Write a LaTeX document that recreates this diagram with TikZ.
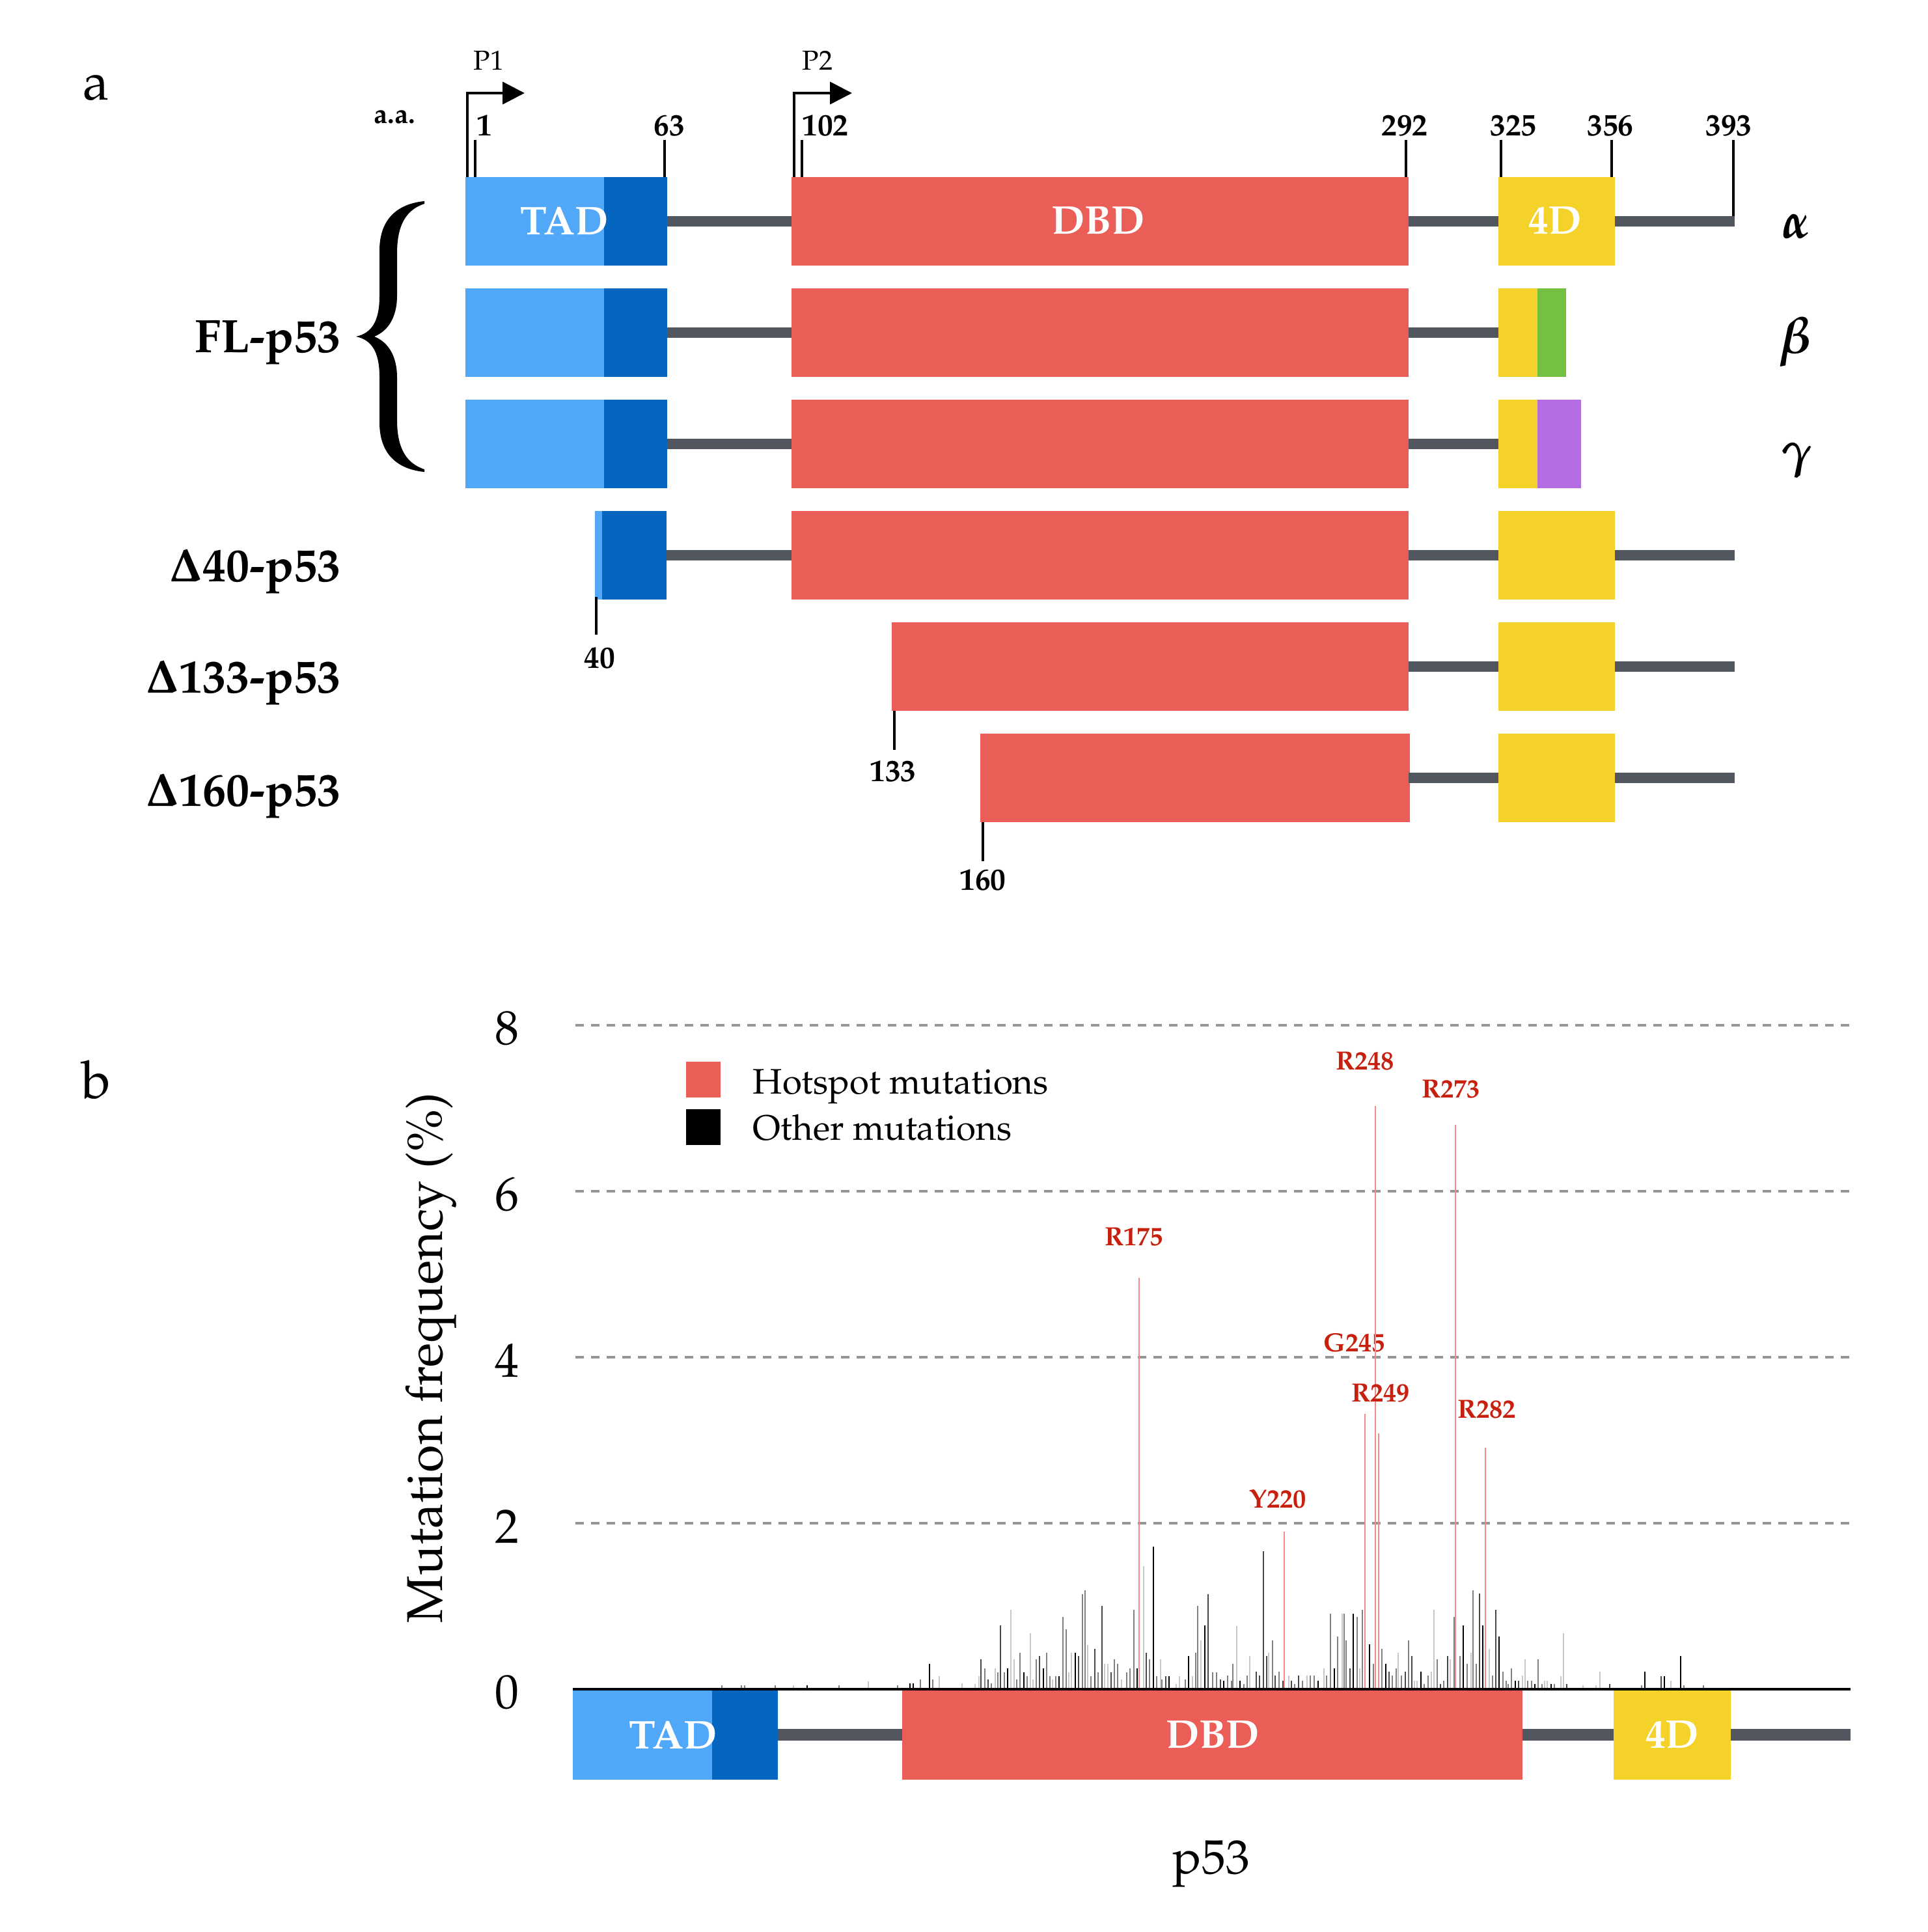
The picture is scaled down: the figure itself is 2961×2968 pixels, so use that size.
\documentclass[tikz,border=0pt]{standalone}
\usepackage[T1]{fontenc}
\usepackage{mathpazo}
\usepackage{bm}
\usepackage{tikz}
\usetikzlibrary{arrows.meta}
\definecolor{tadlight}{RGB}{82,168,248}
\definecolor{taddark}{RGB}{5,102,192}
\definecolor{dbdred}{RGB}{235,94,88}
\definecolor{tetyellow}{RGB}{245,210,42}
\definecolor{betagreen}{RGB}{115,192,67}
\definecolor{gammapurple}{RGB}{180,110,225}
\definecolor{linkgrey}{RGB}{82,86,94}
\definecolor{hotline}{RGB}{242,140,140}
\definecolor{hotlabel}{RGB}{200,32,14}
\definecolor{gridgrey}{RGB}{150,150,150}
\colorlet{mk}{black}
\colorlet{md}{black!72}
\colorlet{mg}{black!50}
\colorlet{ml}{black!22}
% boxes in panel a: colour, left, right, row centre
\newcommand{\dombox}[4]{\fill[#1] (#2,#4-68) rectangle (#3,#4+68);}
\newcommand{\linker}[3]{\fill[linkgrey] (#1,#3-8) rectangle (#2,#3+8);}

\begin{document}
\begin{tikzpicture}[x=0.1mm,y=-0.1mm,
  every node/.style={inner sep=0pt},
  tick/.style={line width=1.3pt},
  numlab/.style={font=\fontsize{13.5}{15}\selectfont\bfseries},
  isolab/.style={font=\fontsize{20.5}{23}\selectfont\bfseries,anchor=base east},
  greeklab/.style={font=\fontsize{22}{24}\selectfont},
  domlab/.style={font=\fontsize{17.5}{20}\selectfont\bfseries,text=white},
  panellab/.style={font=\fontsize{23}{26}\selectfont},
  axlab/.style={font=\fontsize{21}{24}\selectfont},
  hotlab/.style={font=\fontsize{11.5}{13}\selectfont\bfseries,text=hotlabel},
  gridline/.style={gridgrey,line width=1.4pt,dash pattern=on 1.3mm off 1.1mm},
  bar/.style={line width=0.6pt}]
\useasboundingbox (0,0) rectangle (2961,2968);

%%% panel a
\node[panellab] (pa) at (148,134) {a};
\node[numlab,font=\fontsize{12}{14}\selectfont\bfseries] (aa) at (606,180) {a.a.};

% promoters
\draw[tick,-{Triangle[length=3.4mm,width=3.4mm]}] (718,272) -- (718,143) -- (806,143);
\draw[tick,-{Triangle[length=3.4mm,width=3.4mm]}] (1220,272) -- (1220,143) -- (1309,143);
\node[font=\fontsize{12}{14}\selectfont] (p1) at (751,93) {P1};
\node[font=\fontsize{12}{14}\selectfont] (p2) at (1256,93) {P2};

% residue ticks
\foreach \tx/\lx/\lab/\tb in {730/744/1/272, 1021/1028/63/272, 1232/1268/102/272,
   2160/2158/292/272, 2306/2325/325/272, 2476/2474/356/272, 2663/2656/393/333}{
  \draw[tick] (\tx,215) -- (\tx,\tb);
  \node[numlab] (n\lab) at (\lx,193) {\lab};
}

% full length isoforms
\foreach \yc in {340,511,682}{
  \dombox{tadlight}{715}{928}{\yc}
  \dombox{taddark}{928}{1025}{\yc}
  \linker{1025}{1216}{\yc}
  \dombox{dbdred}{1216}{2164}{\yc}
  \linker{2164}{2302}{\yc}
}
\dombox{tetyellow}{2302}{2481}{340}
\linker{2481}{2665}{340}
\dombox{tetyellow}{2302}{2362}{511}
\dombox{betagreen}{2362}{2406}{511}
\dombox{tetyellow}{2302}{2362}{682}
\dombox{gammapurple}{2362}{2429}{682}
\node[domlab] (tad) at (867,339) {TAD};
\node[domlab] (dbd) at (1687,339) {DBD};
\node[domlab] (tet) at (2389,339) {4D};

% N-terminal truncated isoforms
\dombox{tadlight}{914}{925}{853}
\dombox{taddark}{925}{1024}{853}
\linker{1024}{1216}{853}
\dombox{dbdred}{1216}{2164}{853}
\dombox{dbdred}{1370}{2164}{1024}
\dombox{dbdred}{1506}{2166}{1195}
\foreach \yc in {853,1024,1195}{
  \linker{2164}{2304}{\yc}
  \dombox{tetyellow}{2302}{2481}{\yc}
  \linker{2481}{2665}{\yc}
}
\draw[tick] (916,917) -- (916,975);
\node[numlab] (n40) at (921,1011) {40};
\draw[tick] (1374,1092) -- (1374,1152);
\node[numlab] (n133) at (1372,1185) {133};
\draw[tick] (1510,1263) -- (1510,1323);
\node[numlab] (n160) at (1510,1352) {160};

% labels
\node[isolab] (fl) at (524,542) {FL-p53};
\node[isolab] (d40) at (524,893) {$\bm{\Delta}$40-p53};
\node[isolab] (d133) at (524,1064) {$\bm{\Delta}$133-p53};
\node[isolab] (d160) at (524,1238) {$\bm{\Delta}$160-p53};
\node[greeklab] (galpha) at (2760,348) {$\bm{\alpha}$};
\node[greeklab] (gbeta) at (2757,525) {$\bm{\beta}$};
\node[greeklab] (ggamma) at (2760,707) {$\bm{\gamma}$};
\fill (652,309) .. controls (612,313) and (583,335) .. (583,385)
  -- (583,455) .. controls (583,495) and (570,512) .. (547,517)
  .. controls (570,522) and (583,539) .. (583,579)
  -- (583,649) .. controls (583,699) and (612,721) .. (652,725)
  -- (652,721) .. controls (625,712) and (610,690) .. (610,645)
  -- (610,580) .. controls (610,545) and (595,525) .. (575,517)
  .. controls (595,509) and (610,489) .. (610,454)
  -- (610,389) .. controls (610,344) and (625,322) .. (652,313) -- cycle;

%%% panel b
\node[panellab] (pb) at (148,1658) {b};
\foreach \yv in {2,4,6,8}
  \draw[gridline] (884,2595-127.5*\yv) -- (2843,2595-127.5*\yv);
\foreach \yv in {0,2,4,6,8}
  \node[axlab] (y\yv) at (779,2600-127.5*\yv) {\yv};
\node[axlab,font=\fontsize{22}{24}\selectfont,rotate=90,anchor=base] (ylab) at (679,2086) {Mutation frequency (\%)};
\node[axlab,anchor=base] (xlab) at (1861,2878) {p53};

% legend
\fill[dbdred] (1054,1631) rectangle (1107,1686);
\fill[black] (1054,1704) rectangle (1107,1759);
\node[font=\fontsize{15.5}{18}\selectfont,anchor=base west] (lhot) at (1156,1680) {Hotspot mutations};
\node[font=\fontsize{15.5}{18}\selectfont,anchor=base west] (loth) at (1156,1751) {Other mutations};

% other mutations
\foreach \bx/\bh/\bc in {1109/6/g,1139/6/g,1144/6/g,1191/6/g,1219/6/l,1240/6/k,1289/6/g,1334/12/l,1379/6/g,
 1398/9/k,1403/9/k,1414/15/g,1428/39/k,1433/15/g,1443/20/l,1478/9/l,1498/8/l,1504/20/l,1507/46/d,
 1513/32/g,1518/15/d,1523/9/g,1529/32/l,1533/26/g,1537/98/d,1543/26/g,1548/32/k,1553/122/l,1558/46/l,
 1562/15/g,1567/56/g,1573/26/k,1578/20/g,1583/86/l,1587/15/l,1592/46/g,1597/51/d,1603/32/k,1608/56/g,
 1613/20/g,1617/15/l,1622/20/g,1627/20/k,1633/111/g,1638/92/g,1642/26/l,1646/56/l,1652/56/k,1657/51/d,
 1663/146/g,1667/152/g,1671/68/l,1676/20/g,1682/62/d,1687/26/g,1693/128/d,1697/39/l,1702/39/l,1707/26/d,
 1712/46/g,1717/39/g,1723/15/l,1731/26/g,1736/32/g,1742/122/g,1747/32/k,1757/189/l,1761/56/d,1766/46/g,
 1772/219/k,1777/20/g,1783/46/l,1785/15/g,1791/20/d,1796/20/k,1807/8/l,1812/20/l,1821/15/g,1826/51/k,
 1832/20/l,1837/56/g,1840/128/g,1845/75/l,1851/98/k,1856/146/d,1863/26/g,1869/26/g,1875/15/d,
 1880/13/k,1886/21/g,1892/13/g,1894/39/g,1900/97/l,1905/13/k,1911/8/g,1916/21/g,1920/51/l,1930/27/d,
 1935/21/d,1941/212/d,1946/51/d,1949/56/l,1955/75/g,1959/21/d,1965/27/g,1971/13/d,1980/21/l,1984/13/d,
 1989/8/g,1995/21/d,2001/13/g,2008/21/l,2013/21/g,2019/21/g,2025/13/k,2034/32/l,2038/21/g,2044/116/g,
 2050/32/k,2055/81/g,2062/116/l,2065/116/g,2068/75/g,2074/32/d,2079/116/k,2085/111/g,2089/32/l,2093/122/g,
 2104/69/k,2110/39/g,2123/62/g,2129/39/k,2134/27/d,2139/21/g,2145/32/g,2148/56/l,2153/21/g,2159/27/d,
 2164/75/g,2169/51/d,2173/13/l,2177/13/l,2183/27/k,2188/8/g,2194/21/g,2199/27/l,2203/122/l,2208/46/g,
 2213/8/d,2218/13/g,2224/51/d,2228/46/l,2234/111/g,2243/51/g,2248/98/k,2254/39/g,2260/56/l,2263/152/g,
 2268/39/g,2273/147/d,2278/98/k,2288/62/l,2293/21/g,2298/122/d,2303/81/k,2309/27/g,2314/13/g,2317/8/g,
 2322/32/g,2328/13/k,2333/13/d,2339/21/l,2343/46/l,2347/13/g,2353/13/g,2358/8/k,2363/46/g,2369/8/g,
 2373/13/l,2377/13/l,2383/8/k,2388/8/g,2398/20/l,2402/86/l,2407/8/d,2432/6/l,2452/6/l,2458/27/l,
 2473/8/d,2522/6/g,2527/27/k,2552/20/d,2557/20/k,2567/13/l,2582/51/k,2587/6/g,2617/6/g}
  \draw[bar,color=m\bc] (\bx,2595) -- (\bx,2595-\bh);

% hotspot mutations
\foreach \hx/\htop/\lx/\ly/\lab in {1750/1963/1742/1900/R175, 1973/2353/1963/2303/Y220,
   2097/2172/2081/2063/G245, 2113/1699/2097/1630/R248, 2118/2202/2121/2140/R249,
   2236/1728/2229/1673/R273, 2282/2224/2284/2165/R282}{
  \draw[hotline,line width=0.45pt] (\hx,2595) -- (\hx,\htop);
  \node[hotlab] (h\lab) at (\lx,\ly) {\lab};
}
\draw[line width=1.4pt] (880,2595) -- (2843,2595);

% domains
\fill[tadlight] (880,2597) rectangle (1094,2734);
\fill[taddark] (1094,2597) rectangle (1195,2734);
\fill[linkgrey] (1195,2656) rectangle (1386,2674);
\fill[dbdred] (1386,2597) rectangle (2339,2734);
\fill[linkgrey] (2339,2656) rectangle (2479,2674);
\fill[tetyellow] (2479,2597) rectangle (2659,2734);
\fill[linkgrey] (2659,2656) rectangle (2843,2674);
\node[domlab] (btad) at (1034,2665) {TAD};
\node[domlab] (bdbd) at (1863,2665) {DBD};
\node[domlab] (btet) at (2569,2665) {4D};
\end{tikzpicture}
\end{document}
